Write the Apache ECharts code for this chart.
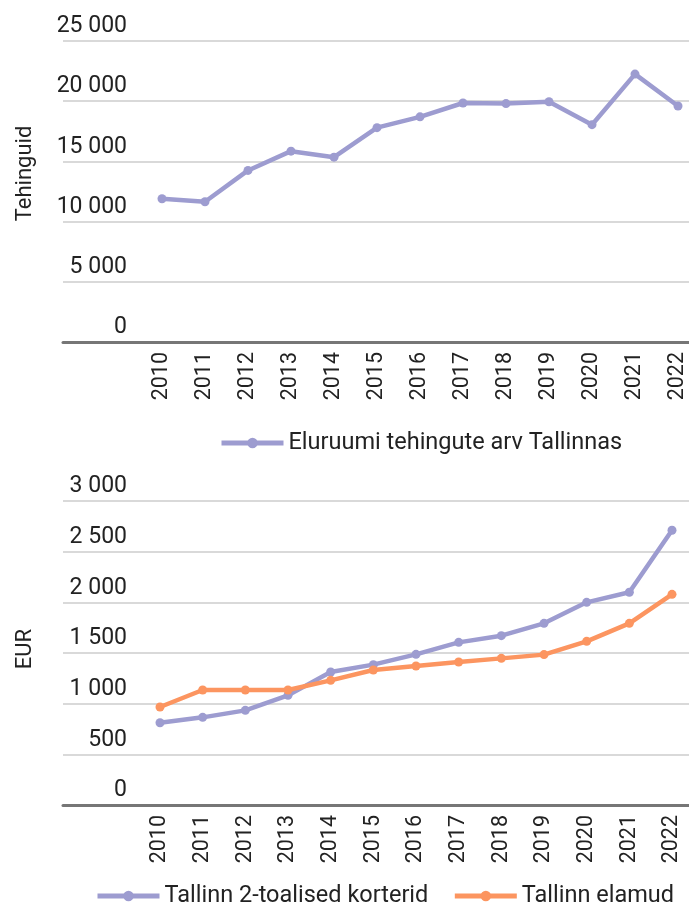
<!DOCTYPE html>
<html>
<head>
<meta charset="utf-8">
<script src="https://cdn.jsdelivr.net/npm/echarts@6/dist/echarts.min.js"></script>
<style>
  html, body { margin: 0; padding: 0; background: #fff; }
  #chart { width: 689px; height: 905px; }
</style>
</head>
<body>
<div id="chart"></div>
<script>
const years = ['2010', '2011', '2012', '2013', '2014', '2015', '2016', '2017', '2018', '2019', '2020', '2021', '2022']

// top panel: number of transactions
const dealsName = 'Eluruumi tehingute arv Tallinnas'
const deals = [11900, 11650, 14250, 15850, 15350, 17800, 18700, 19850, 19800, 19950, 18050, 22250, 19600]

// bottom panel: price per m2, EUR
const flatsName = 'Tallinn 2-toalised korterid'
const flats = [812, 865, 934, 1082, 1312, 1385, 1487, 1605, 1671, 1793, 2000, 2099, 2711]
const housesName = 'Tallinn elamud'
const houses = [967, 1135, 1135, 1135, 1230, 1332, 1372, 1411, 1447, 1484, 1615, 1793, 2079]

const purple = '#9d9cd0'
const orange = '#fc9560'
const font = 'Roboto, "Noto Sans", sans-serif'
const textColor = '#222'

const chart = echarts.init(document.getElementById('chart'))

// background grids carry the long gridlines and the axis base line
const bgX = (gridIndex) => ({
  type: 'category',
  gridIndex,
  data: years,
  axisLine: { show: true, lineStyle: { color: '#767676', width: 3 } },
  axisTick: { show: false },
  axisLabel: { show: false },
})
const bgY = (gridIndex, max, interval, name, pad) => ({
  type: 'value',
  gridIndex,
  min: 0,
  max,
  interval,
  name,
  nameLocation: 'middle',
  nameGap: 27,
  nameTextStyle: { fontFamily: font, fontSize: 22, color: textColor, padding: pad },
  axisLine: { show: false },
  axisTick: { show: false },
  axisLabel: { show: false },
  splitLine: { lineStyle: { color: '#d9d9d9', width: 2 } },
})
const dataX = (gridIndex) => ({
  type: 'category',
  gridIndex,
  data: years,
  boundaryGap: false,
  axisLine: { show: false },
  axisTick: { show: false },
  axisLabel: { rotate: 90, margin: 10, fontFamily: font, fontSize: 21.5, color: textColor },
})
const dataY = (gridIndex, max, interval, margin) => ({
  type: 'value',
  gridIndex,
  min: 0,
  max,
  interval,
  axisLine: { show: false },
  axisTick: { show: false },
  splitLine: { show: false },
  axisLabel: {
    margin,
    fontFamily: font,
    fontSize: 23,
    color: textColor,
    verticalAlign: 'bottom',
    padding: [0, 0, 3, 0],
    formatter: (v) => String(v).replace(/\B(?=(\d{3})+(?!\d))/g, ' '),
  },
})
const lineSeries = (name, data, color, axisIndex) => ({
  name,
  type: 'line',
  data,
  xAxisIndex: axisIndex,
  yAxisIndex: axisIndex,
  symbol: 'circle',
  symbolSize: 9,
  color,
  lineStyle: { width: 4.5, color },
  itemStyle: { color },
})
const legendBase = {
  itemWidth: 62,
  itemHeight: 13,
  itemGap: 24,
  lineStyle: { width: 5 },
  textStyle: { fontFamily: font, fontSize: 23.5, color: textColor },
}

chart.setOption({
  animation: false,
  textStyle: { fontFamily: font },
  grid: [
    { left: 63, right: 0, top: 41, height: 301 },
    { left: 162, right: 10, top: 41, height: 301 },
    { left: 63, right: 0, top: 501, height: 304 },
    { left: 160, right: 17, top: 501, height: 304 },
  ],
  xAxis: [bgX(0), dataX(1), bgX(2), dataX(3)],
  yAxis: [
    bgY(0, 25000, 5000, 'Tehinguid', [0, 0, 0, 36]),
    dataY(1, 25000, 5000, 35),
    bgY(2, 3000, 500, 'EUR', [0, 0, 0, 8]),
    dataY(3, 3000, 500, 33),
  ],
  legend: [
    Object.assign({}, legendBase, { data: [dealsName], left: 214, top: 426 }),
    Object.assign({}, legendBase, { data: [flatsName, housesName], left: 90, top: 879 }),
  ],
  series: [
    lineSeries(dealsName, deals, purple, 1),
    lineSeries(flatsName, flats, purple, 3),
    lineSeries(housesName, houses, orange, 3),
  ],
})
</script>
</body>
</html>
